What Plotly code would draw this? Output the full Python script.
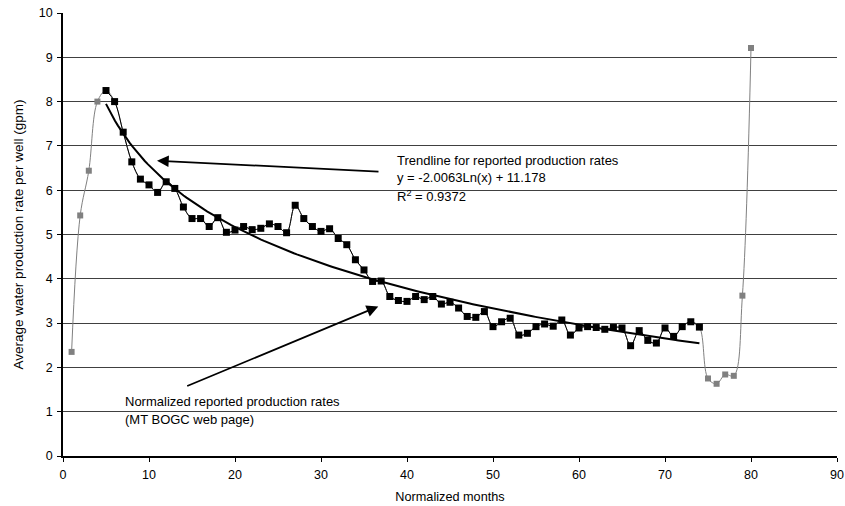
import numpy as np
import plotly.graph_objects as go

# ---- data ----
months = list(range(1, 81))
rates = [2.35, 5.43, 6.44, 8.00, 8.25, 8.00, 7.31, 6.64, 6.25, 6.12,
         5.95, 6.19, 6.04, 5.62, 5.36, 5.36, 5.18, 5.38, 5.05, 5.10,
         5.18, 5.11, 5.14, 5.24, 5.18, 5.04, 5.66, 5.36, 5.18, 5.07,
         5.13, 4.91, 4.77, 4.43, 4.20, 3.94, 3.95, 3.60, 3.51, 3.49,
         3.60, 3.53, 3.60, 3.43, 3.47, 3.34, 3.15, 3.13, 3.26, 2.92,
         3.03, 3.11, 2.73, 2.77, 2.92, 2.98, 2.93, 3.07, 2.73, 2.89,
         2.92, 2.90, 2.86, 2.90, 2.89, 2.49, 2.83, 2.61, 2.55, 2.89,
         2.70, 2.92, 3.03, 2.91, 1.75, 1.63, 1.84, 1.81, 3.62, 9.21]
reported_first = 5
reported_last = 74
trend_a = -2.0063
trend_b = 11.178
x_ticks = [0, 10, 20, 30, 40, 50, 60, 70, 80, 90]
y_ticks = [0, 1, 2, 3, 4, 5, 6, 7, 8, 9, 10]

FONT = "Arial, Liberation Sans, sans-serif"

rep_x = [m for m in months if reported_first <= m <= reported_last]
rep_y = [r for m, r in zip(months, rates) if reported_first <= m <= reported_last]
gray_x = [m for m in months if m < reported_first or m > reported_last]
gray_y = [r for m, r in zip(months, rates) if m < reported_first or m > reported_last]

tx = np.linspace(reported_first, reported_last, 200)
ty = trend_a * np.log(tx) + trend_b

fig = go.Figure()
# full series in gray (smoothed)
fig.add_trace(go.Scatter(x=months, y=rates, mode="lines",
                         line=dict(color="#808080", width=1, shape="spline", smoothing=1),
                         hoverinfo="skip", showlegend=False))
fig.add_trace(go.Scatter(x=gray_x, y=gray_y, mode="markers",
                         marker=dict(symbol="square", size=6, color="#808080"),
                         showlegend=False))
# reported series in black
fig.add_trace(go.Scatter(x=rep_x, y=rep_y, mode="lines+markers",
                         line=dict(color="black", width=1, shape="spline", smoothing=1),
                         marker=dict(symbol="square", size=7, color="black"),
                         showlegend=False))
# trendline
fig.add_trace(go.Scatter(x=tx, y=ty, mode="lines",
                         line=dict(color="black", width=2),
                         showlegend=False))

ann = []
def txt(x, y, s):
    ann.append(dict(x=x, y=y, xref="x", yref="y", text=s, showarrow=False,
                    xanchor="left", yanchor="middle",
                    font=dict(family=FONT, size=13, color="black")))

txt(38.6, 6.667, "Trendline for reported production rates")
txt(38.6, 6.294, "y = -2.0063Ln(x) + 11.178")
txt(38.6, 5.86, "R<sup>2</sup> = 0.9372")
txt(7.0, 1.227, "Normalized reported production rates")
txt(7.0, 0.814, "(MT BOGC web page)")

def arrow(x, y, ax, ay):
    ann.append(dict(x=x, y=y, ax=ax, ay=ay, xref="x", yref="y", axref="x", ayref="y",
                    text="", showarrow=True, arrowhead=2, arrowsize=1.3,
                    arrowwidth=1.8, arrowcolor="black"))

arrow(10.93, 6.667, 36.86, 6.418)
arrow(36.66, 3.374, 14.27, 1.566)

fig.update_layout(
    width=845, height=506,
    margin=dict(l=63, r=8, t=13, b=50),
    paper_bgcolor="white", plot_bgcolor="white",
    font=dict(family=FONT, size=11, color="black"),
    annotations=ann,
    showlegend=False,
)
fig.update_xaxes(range=[0, 90], tickvals=x_ticks, ticks="outside", ticklen=4,
                 tickcolor="black", showline=True, linecolor="black", linewidth=1.5,
                 showgrid=False, zeroline=False, ticklabelstandoff=2, automargin=False,
                 tickfont=dict(family=FONT, size=12.5, color="black"),
                 title=dict(text="Normalized months", standoff=11,
                            font=dict(family=FONT, size=12.7, color="black")))
fig.update_yaxes(range=[0, 10], tickvals=y_ticks, ticks="outside", ticklen=4,
                 tickcolor="black", showline=True, linecolor="black", linewidth=1.5,
                 showgrid=True, gridcolor="#404040", gridwidth=1, zeroline=False,
                 ticklabelstandoff=2, automargin=False,
                 tickfont=dict(family=FONT, size=12.5, color="black"),
                 title=dict(text="Average water production rate per well (gpm)", standoff=12,
                            font=dict(family=FONT, size=13.5, color="black")))

fig.write_html("out.html")
